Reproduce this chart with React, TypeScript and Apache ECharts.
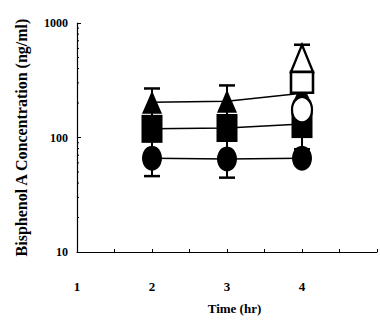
import React, { useEffect, useRef } from "react";
import * as echarts from "echarts";

const times = [2, 3, 4];
const triangleFilled = [203, 207, 243];
const squareFilled = [119, 121, 131];
const circleFilled = [66, 65, 66];
const openTime = 4;
const triangleOpen = 491;
const squareOpen = 304;
const circleOpen = 175;
// [time, low, high]
const errorBars = [
  [2, 46, 268],
  [3, 44.6, 285],
  [4, 79, 646],
];
const yMinorTicks = [20, 30, 40, 50, 60, 70, 80, 90, 200, 300, 400, 500, 600, 700, 800, 900];
const xTickLabels = ["1", "2", "3", "4"];

const FONT = "Liberation Serif";

export default function App() {
  const ref = useRef<HTMLDivElement>(null);
  useEffect(() => {
    if (!ref.current) return;
    const chart = echarts.init(ref.current, null, { renderer: "svg" });
    const toPairs = (vals: number[]) => times.map((t, i) => [t, vals[i]]);
    const filledLine = (name: string, symbol: string, size: number[], vals: number[]) => ({
      name,
      type: "line",
      data: toPairs(vals),
      symbol,
      symbolSize: size,
      showSymbol: true,
      z: 3,
      lineStyle: { color: "#000", width: 1.5 },
      itemStyle: { color: "#000", opacity: 1 },
    });
    const openPoint = (name: string, symbol: string, size: number[], v: number) => ({
      name,
      type: "scatter",
      data: [[openTime, v]],
      symbol,
      symbolSize: size,
      z: 5,
      itemStyle: { color: "#fff", borderColor: "#000", borderWidth: 2.5, opacity: 1 },
    });
    chart.setOption({
      animation: false,
      backgroundColor: "#fff",
      grid: { left: 77, top: 23, bottom: 66, right: -3 },
      xAxis: {
        type: "value",
        min: 1,
        max: 5,
        interval: 0.5,
        name: "Time (hr)",
        nameLocation: "middle",
        nameGap: 50,
        nameTextStyle: { fontFamily: FONT, fontWeight: "bold", fontSize: 13, color: "#000", padding: [0, 0, 0, 15] },
        axisLine: { lineStyle: { color: "#000", width: 1.2 } },
        axisTick: { inside: true, length: 3, lineStyle: { color: "#000" } },
        splitLine: { show: false },
        axisLabel: {
          margin: 28,
          fontFamily: FONT,
          fontWeight: "bold",
          fontSize: 13,
          color: "#000",
          formatter: (v: number) => (Number.isInteger(v) && v <= 4 ? xTickLabels[v - 1] : ""),
        },
      },
      yAxis: {
        type: "log",
        min: 10,
        max: 1000,
        logBase: 10,
        name: "Bisphenol A Concentration (ng/ml)",
        nameLocation: "middle",
        nameGap: 48,
        nameTextStyle: { fontFamily: FONT, fontWeight: "bold", fontSize: 16, color: "#000" },
        axisLine: { show: true, lineStyle: { color: "#000", width: 1.2 } },
        axisTick: { show: true, inside: true, length: 4, lineStyle: { color: "#000" } },
        splitLine: { show: false },
        axisLabel: {
          margin: 9,
          fontFamily: FONT,
          fontWeight: "bold",
          fontSize: 12,
          color: "#000",
          formatter: (v: number) => String(Math.round(v)),
        },
      },
      series: [
        {
          name: "minorTicks",
          type: "custom",
          data: yMinorTicks.map((v) => [1, v]),
          z: 1,
          silent: true,
          renderItem: (params: any, api: any) => {
            const p = api.coord([api.value(0), api.value(1)]);
            return {
              type: "line",
              shape: { x1: p[0], y1: p[1], x2: p[0] + 2, y2: p[1] },
              style: { stroke: "#000", lineWidth: 1 },
            };
          },
        },
        {
          name: "errors",
          type: "custom",
          data: errorBars,
          encode: { x: 0, y: [1, 2] },
          z: 1,
          renderItem: (params: any, api: any) => {
            const x = api.value(0);
            const lo = api.coord([x, api.value(1)]);
            const hi = api.coord([x, api.value(2)]);
            const cw = 8;
            return {
              type: "group",
              children: [
                { type: "line", shape: { x1: lo[0], y1: lo[1], x2: hi[0], y2: hi[1] }, style: { stroke: "#000", lineWidth: 2 } },
                { type: "line", shape: { x1: hi[0] - cw, y1: hi[1], x2: hi[0] + cw, y2: hi[1] }, style: { stroke: "#000", lineWidth: 2.5 } },
                { type: "line", shape: { x1: lo[0] - cw, y1: lo[1], x2: lo[0] + cw, y2: lo[1] }, style: { stroke: "#000", lineWidth: 2.5 } },
              ],
            };
          },
        },
        filledLine("Circle", "circle", [20, 25], circleFilled),
        filledLine("Square", "rect", [21, 28], squareFilled),
        filledLine("Triangle", "triangle", [20, 23], triangleFilled),
        openPoint("Open circle", "circle", [20, 26], circleOpen),
        openPoint("Open square", "rect", [22, 21], squareOpen),
        openPoint("Open triangle", "triangle", [22, 27], triangleOpen),
      ],
    });
    return () => chart.dispose();
  }, []);
  return <div ref={ref} style={{ width: 380, height: 320, position: "absolute", left: 0, top: 0 }} />;
}
